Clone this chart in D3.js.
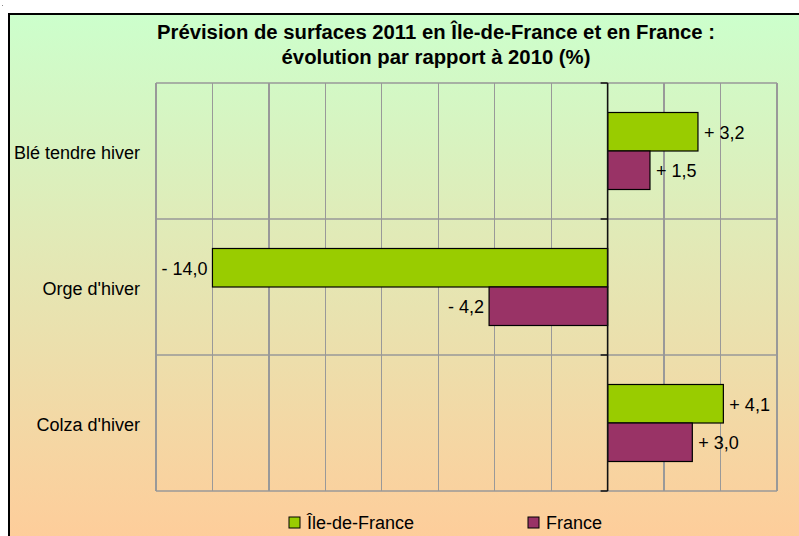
<!DOCTYPE html>
<html>
<head>
<meta charset="utf-8">
<script src="https://cdn.jsdelivr.net/npm/d3@7"></script>
<style>
  html, body { margin: 0; padding: 0; background: #fff; }
  svg { display: block; font-family: "Liberation Sans", Arial, sans-serif; }
</style>
</head>
<body>
<svg id="chart" width="799" height="536"></svg>
<script>
const categories = ["Blé tendre hiver", "Orge d'hiver", "Colza d'hiver"];
const seriesNames = ["Île-de-France", "France"];
const ileDeFrance = [3.2, -14.0, 4.1];
const france = [1.5, -4.2, 3.0];
const seriesColors = ["#99CC00", "#993366"];
const xTicks = [-16, -14, -12, -10, -8, -6, -4, -2, 0, 2, 4, 6];
const titleLines = ["Prévision de surfaces 2011 en Île-de-France et en France :", "évolution par rapport à 2010 (%)"];

const seriesValues = [ileDeFrance, france];
const svg = d3.select("#chart");
const W = 799, H = 536;

// background gradient
const defs = svg.append("defs");
const grad = defs.append("linearGradient").attr("id", "bg").attr("x1", 0).attr("y1", 0).attr("x2", 0).attr("y2", 1);
grad.append("stop").attr("offset", "0%").attr("stop-color", "#CCFFCC");
grad.append("stop").attr("offset", "100%").attr("stop-color", "#FFCC99");

svg.append("rect").attr("x", 9).attr("y", 14).attr("width", W).attr("height", H)
  .attr("fill", "url(#bg)").attr("stroke", "#000").attr("stroke-width", 2);

// tiny mark at top-left corner
svg.append("rect").attr("x", 2).attr("y", 5).attr("width", 1).attr("height", 1).attr("fill", "#888");

const plot = { left: 156, right: 777, top: 83, bottom: 491 };

const x = d3.scaleLinear().domain([-16, 6]).range([plot.left, plot.right]);
const y0 = d3.scaleBand().domain(categories).range([plot.top, plot.bottom]).padding(0);
const y1 = d3.scaleBand().domain(seriesNames).range([0, y0.bandwidth()]).paddingInner(0).paddingOuter(0.766);

// vertical gridlines
svg.append("g").selectAll("line").data(xTicks.filter(t => t !== 0)).join("line")
  .attr("x1", d => x(d)).attr("x2", d => x(d))
  .attr("y1", plot.top).attr("y2", plot.bottom)
  .attr("stroke", "#999").attr("stroke-width", 1.2)
  .attr("shape-rendering", "crispEdges");

// horizontal category separators
const bounds = categories.map(c => y0(c)).concat([plot.bottom]);
svg.append("g").selectAll("line").data(bounds).join("line")
  .attr("x1", plot.left).attr("x2", plot.right)
  .attr("y1", d => d).attr("y2", d => d)
  .attr("stroke", "#999").attr("stroke-width", 1.5);

// plot border left/right
svg.append("line").attr("x1", plot.left).attr("x2", plot.left).attr("y1", plot.top).attr("y2", plot.bottom)
  .attr("stroke", "#999").attr("stroke-width", 1.2);
svg.append("line").attr("x1", plot.right).attr("x2", plot.right).attr("y1", plot.top).attr("y2", plot.bottom)
  .attr("stroke", "#999").attr("stroke-width", 1.2);

// bars
const rows = [];
categories.forEach((c, i) => seriesNames.forEach((s, j) => rows.push({ c, s, j, v: seriesValues[j][i] })));

svg.append("g").selectAll("rect").data(rows).join("rect")
  .attr("x", d => x(Math.min(0, d.v)))
  .attr("width", d => Math.abs(x(d.v) - x(0)))
  .attr("y", d => y0(d.c) + y1(d.s))
  .attr("height", y1.bandwidth())
  .attr("fill", d => seriesColors[d.j])
  .attr("stroke", "#000").attr("stroke-width", 1.2);

// zero axis with ticks
svg.append("line").attr("x1", x(0)).attr("x2", x(0)).attr("y1", plot.top).attr("y2", plot.bottom)
  .attr("stroke", "#111").attr("stroke-width", 1.6);
svg.append("g").selectAll("line").data(bounds).join("line")
  .attr("x1", x(0) - 7).attr("x2", x(0))
  .attr("y1", d => d).attr("y2", d => d)
  .attr("stroke", "#111").attr("stroke-width", 1.5);

// value labels
const fmt = v => (v >= 0 ? "+ " : "- ") + d3.format(".1f")(Math.abs(v)).replace(".", ",");
svg.append("g").selectAll("text").data(rows).join("text")
  .attr("x", d => d.v >= 0 ? x(d.v) + 6 : x(d.v) - 5)
  .attr("y", d => y0(d.c) + y1(d.s) + y1.bandwidth() / 2)
  .attr("dy", "0.38em")
  .attr("text-anchor", d => d.v >= 0 ? "start" : "end")
  .attr("font-size", 18).attr("fill", "#000")
  .text(d => fmt(d.v));

// category labels
svg.append("g").selectAll("text").data(categories).join("text")
  .attr("x", 140)
  .attr("y", d => y0(d) + y0.bandwidth() / 2 + 8)
  .attr("text-anchor", "end")
  .attr("font-size", 18).attr("fill", "#000")
  .text(d => d);

// title
svg.append("g").selectAll("text").data(titleLines).join("text")
  .attr("x", 436)
  .attr("y", (d, i) => 39 + i * 25)
  .attr("text-anchor", "middle")
  .attr("font-size", 20.3).attr("font-weight", "bold").attr("fill", "#000")
  .text(d => d);

// legend
const legendX = [289, 528];
const lg = svg.append("g").selectAll("g").data(seriesNames).join("g")
  .attr("transform", (d, i) => `translate(${legendX[i]},517)`);
lg.append("rect").attr("width", 11).attr("height", 11)
  .attr("fill", (d, i) => seriesColors[i]).attr("stroke", "#000").attr("stroke-width", 1);
lg.append("text").attr("x", 18).attr("y", 12)
  .attr("font-size", 18).attr("fill", "#000").text(d => d);
</script>
</body>
</html>
